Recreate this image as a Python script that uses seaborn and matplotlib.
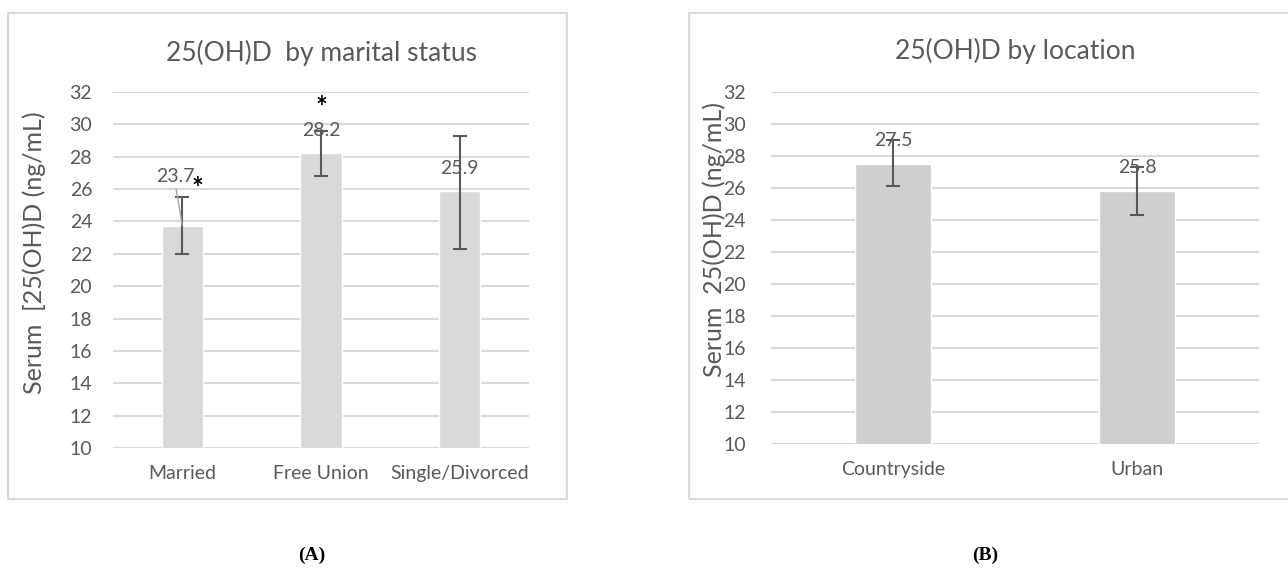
import matplotlib
matplotlib.use("Agg")
import matplotlib.pyplot as plt
import seaborn as sns
import numpy as np
import pandas as pd
from matplotlib.patches import Rectangle

# data
marital = ["Married", "Free Union", "Single/Divorced"]
marital_mean = [23.7, 28.2, 25.9]
marital_low = [22.0, 26.8, 22.3]
marital_high = [25.5, 29.6, 29.3]

location = ["Countryside", "Urban"]
location_mean = [27.5, 25.8]
location_low = [26.1, 24.3]
location_high = [29.0, 27.3]

yticks = list(range(10, 33, 2))

sns.set_style("white")
plt.rcParams["font.family"] = ["Lato", "DejaVu Sans"]

txt = "#595959"
grid = "#D9D9D9"

fig = plt.figure(figsize=(12.88, 5.75), dpi=100)

# outer chart frames
for x0, x1 in [(8, 567), (689, 1290)]:
    fig.patches.append(Rectangle((x0 / 1288, 1 - 499 / 575), (x1 - x0) / 1288, (499 - 13) / 575,
                                 transform=fig.transFigure, fill=False, edgecolor=grid, lw=1.5))

ax1 = fig.add_axes([113 / 1288, 1 - 448 / 575, 416 / 1288, 356 / 575])
ax2 = fig.add_axes([771 / 1288, 1 - 444 / 575, 488 / 1288, 352 / 575])


def panel(ax, cats, mean, low, high, color, width, pad):
    df = pd.DataFrame({"cat": cats, "val": mean})
    sns.barplot(data=df, x="cat", y="val", color=color, saturation=1, width=width,
                errorbar=None, ax=ax, zorder=2)
    m = np.array(mean)
    yerr = [m - np.array(low), np.array(high) - m]
    ax.errorbar(np.arange(len(cats)), m, yerr=yerr, fmt="none", ecolor="#595959",
                elinewidth=1.5, capsize=5, capthick=1.5, zorder=3)
    ax.set_ylim(10, 32)
    ax.set_xlim(-0.5, len(cats) - 0.5)
    ax.set_yticks(yticks)
    ax.yaxis.grid(True, color=grid, lw=1.5, zorder=0)
    ax.set_axisbelow(True)
    for s in ax.spines.values():
        s.set_visible(False)
    ax.tick_params(axis="both", length=0, labelsize=14, colors=txt)
    ax.tick_params(axis="y", pad=pad)
    ax.tick_params(axis="x", pad=12)
    ax.set_xlabel("")


panel(ax1, marital, marital_mean, marital_low, marital_high, "#D9D9D9", 0.3, 15)
panel(ax2, location, location_mean, location_low, location_high, "#D0CECE", 0.31, 18)

ax1.set_title("25(OH)D  by marital status", fontsize=19, color=txt, pad=22)
ax2.set_title("25(OH)D by location", fontsize=19, color=txt, pad=24)
ax1.set_ylabel("Serum  [25(OH)D (ng/mL)", fontsize=18, color=txt)
ax2.set_ylabel("Serum  25(OH)D (ng/mL)", fontsize=18, color=txt)
ax1.yaxis.set_label_coords(-0.161, 0.55)
ax2.yaxis.set_label_coords(-0.092, 0.58)

# data labels
lab = dict(ha="center", va="center", fontsize=14, color=txt)
ax1.text(-0.05, 26.8, "23.7", **lab)
ax1.plot([-0.045, 0.0], [26.0, 23.75], color="#A6A6A6", lw=1, zorder=4)
ax1.text(1, 29.65, "28.2", zorder=1, **lab)
ax1.text(2, 27.3, "25.9", **lab)
ax1.text(0.11, 26.0, "*", ha="center", va="center", fontsize=20, color="black", fontweight="bold")
ax1.text(1.0, 31.0, "*", ha="center", va="center", fontsize=20, color="black", fontweight="bold")

ax2.text(0, 29.0, "27.5", **lab)
ax2.text(1, 27.3, "25.8", **lab)

fig.text(312 / 1288, 1 - 555 / 575, "(A)", ha="center", va="center", fontsize=14,
         fontweight="bold", family="Liberation Serif", color="black")
fig.text(985 / 1288, 1 - 555 / 575, "(B)", ha="center", va="center", fontsize=14,
         fontweight="bold", family="Liberation Serif", color="black")

fig.savefig("out.png", dpi=100)
